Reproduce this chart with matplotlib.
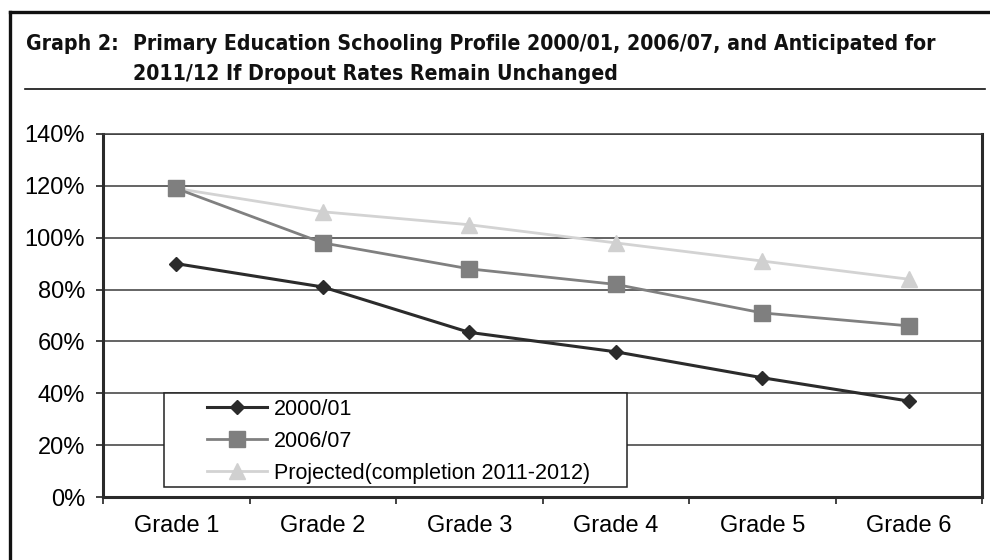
import numpy as np
import matplotlib.pyplot as plt
from matplotlib.lines import Line2D
from matplotlib.patches import Rectangle

grades = ['Grade 1', 'Grade 2', 'Grade 3', 'Grade 4', 'Grade 5', 'Grade 6']
s2000 = [90, 81, 63.5, 56, 46, 37]
s2006 = [119, 98, 88, 82, 71, 66]
proj = [119, 110, 105, 98, 91, 84]
labels = ['2000/01', '2006/07', 'Projected(completion 2011-2012)']
yticks = [0, 20, 40, 60, 80, 100, 120, 140]

W, H = 990, 560
fig = plt.figure(figsize=(W / 100, H / 100), dpi=100)
plt.rcParams['font.family'] = ['Liberation Sans', 'DejaVu Sans']

def fx(x):
    return x / W

def fy(y):
    return 1 - y / H

# outer frame and title rule
fig.add_artist(Line2D([fx(10), fx(10)], [fy(12), fy(H)], color='#111', lw=2.4))
fig.add_artist(Line2D([fx(10), fx(W)], [fy(12), fy(12)], color='#111', lw=2.4))
fig.add_artist(Line2D([fx(25), fx(985)], [fy(89), fy(89)], color='#111', lw=1.2))

# title
tfont = dict(family='DejaVu Sans', stretch='condensed', weight='bold', color='#111')
t0 = fig.text(fx(26), fy(50), 'Graph 2:', va='baseline', ha='left', fontsize=16, **tfont)
t1 = fig.text(fx(133), fy(50), 'Primary Education Schooling Profile 2000/01, 2006/07, and Anticipated for',
              va='baseline', ha='left', fontsize=16, **tfont)
t2 = fig.text(fx(133), fy(80), '2011/12 If Dropout Rates Remain Unchanged',
              va='baseline', ha='left', fontsize=16, **tfont)
fig.canvas.draw()
r = fig.canvas.get_renderer()
fs = 16 * 800 / t1.get_window_extent(r).width
for t in (t0, t1, t2):
    t.set_fontsize(fs)

ax = fig.add_axes([fx(103), fy(497), fx(982) - fx(103), fy(134) - fy(497)])
x = np.arange(len(grades))

ax.plot(x, proj, color='#d3d3d3', lw=2.0, marker='^', ms=12, mfc='#d0d0d0', mec='#d0d0d0', zorder=3, label=labels[2])
ax.plot(x, s2006, color='#808080', lw=2.0, marker='s', ms=11, mfc='#7f7f7f', mec='#7f7f7f', zorder=4, label=labels[1])
ax.plot(x, s2000, color='#2b2b2b', lw=2.2, marker='D', ms=7.5, mfc='#2b2b2b', mec='#2b2b2b', zorder=5, label=labels[0])

ax.set_xlim(-0.5, len(grades) - 0.5)
ax.set_ylim(0, 140)
ax.set_yticks(yticks)
ax.set_yticklabels([f'{v}%' for v in yticks], fontsize=17)
ax.set_xticks(np.arange(len(grades) + 1) - 0.5)
ax.set_xticklabels([])
ax.set_xticks(x, minor=True)
ax.set_xticklabels(grades, minor=True, fontsize=17)
ax.tick_params(axis='x', which='major', length=5, width=1.2, color='#222')
ax.tick_params(axis='x', which='minor', length=0, pad=13)
ax.tick_params(axis='y', length=5, width=1.2, color='#222', pad=8)

ax.yaxis.grid(True, color='#3a3a3a', lw=1.1)
ax.set_axisbelow(True)
for s in ['left', 'bottom', 'right']:
    ax.spines[s].set_linewidth(2.2)
    ax.spines[s].set_color('#2a2a2a')
ax.spines['top'].set_linewidth(1.1)
ax.spines['top'].set_color('#3a3a3a')

# legend box
box = Rectangle((fx(164), fy(487)), fx(627) - fx(164), fy(393) - fy(487), transform=fig.transFigure,
                facecolor='white', edgecolor='#222', lw=1.1, zorder=6)
ax.add_artist(box)
box.set_clip_on(False)
h, l = ax.get_legend_handles_labels()
leg = ax.legend(h[::-1], l[::-1], loc='upper left', bbox_to_anchor=(fx(207), fy(399)),
                bbox_transform=fig.transFigure, frameon=False, fontsize=15.5,
                handlelength=2.8, handletextpad=0.3, borderpad=0, borderaxespad=0,
                labelspacing=0.5)
leg.set_zorder(7)

fig.savefig('out.png', dpi=100)
